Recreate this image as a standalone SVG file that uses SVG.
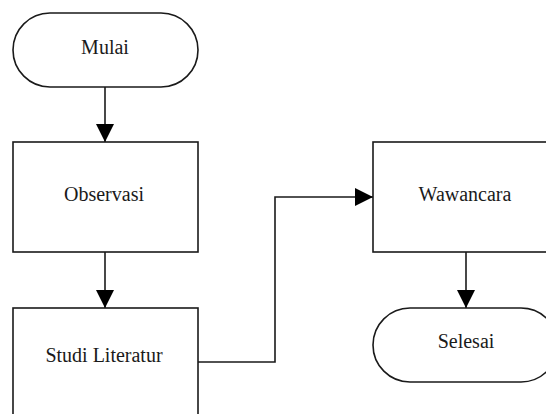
<svg xmlns="http://www.w3.org/2000/svg" width="546" height="414" viewBox="0 0 546 414">
<style>
.shape{fill:#ffffff;stroke:#1a1a1a;stroke-width:1.6}
.conn{fill:none;stroke:#1a1a1a;stroke-width:1.6}
.lbl{font-family:"Liberation Serif","Times New Roman",serif;font-size:20px;fill:#1a1a1a;text-anchor:middle}
</style>
<defs>
<marker id="arrow" markerUnits="userSpaceOnUse" markerWidth="18" markerHeight="18" viewBox="0 0 18 18" refX="18" refY="9" orient="auto">
<path d="M0,0 L18,9 L0,18 Z" fill="#000000"/>
</marker>
</defs>
<rect width="546" height="414" fill="#ffffff"/>
<g id="connectors">
<path class="conn" d="M105,87 L105,142" marker-end="url(#arrow)"/>
<path class="conn" d="M105,252 L105,308" marker-end="url(#arrow)"/>
<path class="conn" d="M198,362 L275,362 L275,197 L373,197" marker-end="url(#arrow)"/>
<path class="conn" d="M466,252 L466,308" marker-end="url(#arrow)"/>
</g>
<g id="mulai">
<rect class="shape" x="13" y="13" width="185" height="74" rx="37" ry="37"/>
<text class="lbl" x="105" y="54">Mulai</text>
</g>
<g id="observasi">
<rect class="shape" x="13" y="142" width="185" height="110"/>
<text class="lbl" x="104" y="201">Observasi</text>
</g>
<g id="studi-literatur">
<rect class="shape" x="13" y="308" width="185" height="110"/>
<text class="lbl" x="104" y="362">Studi Literatur</text>
</g>
<g id="wawancara">
<rect class="shape" x="373" y="142" width="185" height="110"/>
<text class="lbl" x="465" y="201">Wawancara</text>
</g>
<g id="selesai">
<rect class="shape" x="373" y="308" width="185" height="74" rx="37" ry="37"/>
<text class="lbl" x="466" y="348">Selesai</text>
</g>
</svg>
